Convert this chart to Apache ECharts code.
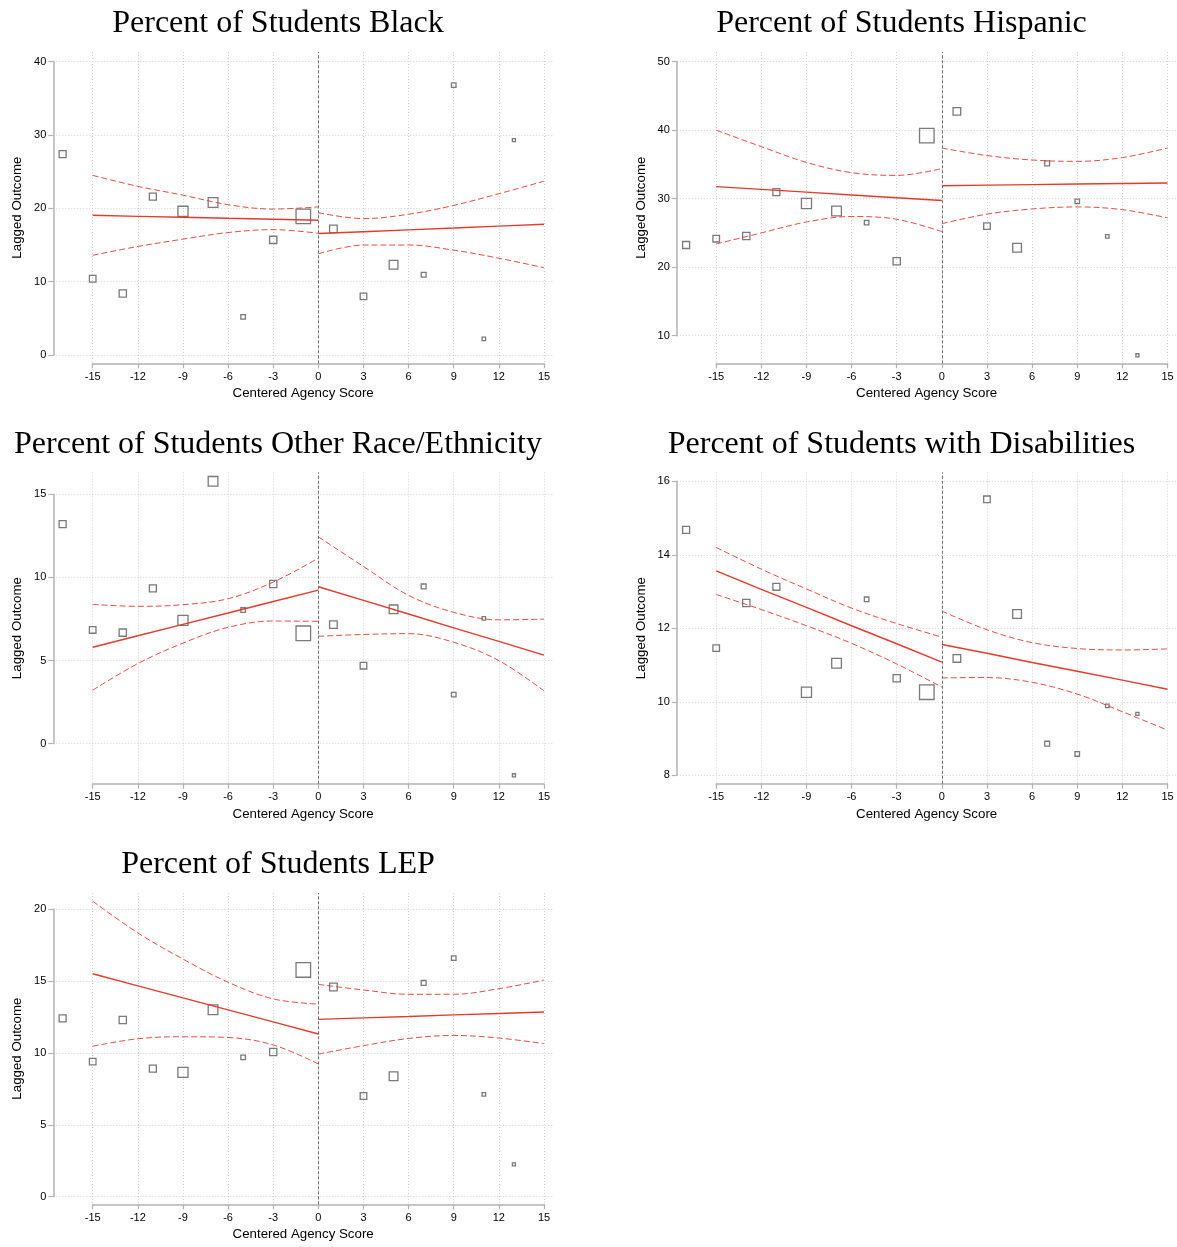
<!DOCTYPE html>
<html>
<head>
<meta charset="utf-8">
<script src="https://cdn.jsdelivr.net/npm/echarts@6/dist/echarts.min.js"></script>
<style>
  html, body { margin: 0; padding: 0; background: #ffffff; }
  #chart { width: 1177px; height: 1247px; }
</style>
</head>
<body>
<div id="chart"></div>
<script>
// ---- Data --------------------------------------------------------------
// Bin midpoints of the centered agency score and the number of agencies per bin
const binScores = [-17, -15, -13, -11, -9, -7, -5, -3, -1, 1, 3, 5, 7, 9, 11, 13];
const binCounts = [52, 46, 56, 52, 108, 100, 22, 56, 225, 62, 46, 81, 25, 22, 13, 10];

const xTicks = [-15, -12, -9, -6, -3, 0, 3, 6, 9, 12, 15];
// Evaluation points for the fitted lines and confidence bands on each side of the cutoff
const fitXLeft = [-15, -12, -9, -6, -3, 0];
const fitXRight = [0, 3, 6, 9, 12, 15];

// Percent of Students Black
const blackMeans = [27.4, 10.4, 8.4, 21.6, 19.6, 20.8, 5.2, 15.7, 18.9, 17.2, 8.0, 12.3, 10.95, 36.8, 2.2, 29.3];
const blackTicks = [0, 10, 20, 30, 40];
const blackFitLeft = [19.05, 18.91, 18.78, 18.64, 18.51, 18.37];
const blackHiLeft = [24.5, 23.0, 21.8, 20.5, 19.9, 20.2];
const blackLoLeft = [13.6, 14.8, 15.8, 16.7, 17.1, 16.6];
const blackFitRight = [16.56, 16.81, 17.07, 17.32, 17.58, 17.83];
const blackHiRight = [19.4, 18.6, 19.2, 20.4, 22.0, 23.7];
const blackLoRight = [13.8, 15.0, 15.0, 14.3, 13.2, 11.9];

// Percent of Students Hispanic
const hispMeans = [23.24, 24.16, 24.55, 30.95, 29.3, 28.2, 26.5, 20.86, 39.2, 42.75, 26.0, 22.85, 35.16, 29.6, 24.5, 7.14];
const hispTicks = [10, 20, 30, 40, 50];
const hispFitLeft = [31.77, 31.36, 30.96, 30.55, 30.14, 29.73];
const hispHiLeft = [40.0, 37.6, 35.3, 33.8, 33.4, 34.4];
const hispLoLeft = [23.4, 25.0, 26.6, 27.4, 27.0, 25.2];
const hispFitRight = [31.9, 31.98, 32.06, 32.14, 32.22, 32.3];
const hispHiRight = [37.4, 36.3, 35.65, 35.45, 36.0, 37.4];
const hispLoRight = [26.35, 27.75, 28.5, 28.8, 28.4, 27.2];

// Percent of Students Other Race/Ethnicity
const otherMeans = [13.21, 6.84, 6.68, 9.34, 7.42, 15.78, 8.04, 9.6, 6.64, 7.16, 4.69, 8.08, 9.46, 2.95, 7.54, -1.9];
const otherTicks = [0, 5, 10, 15];
const otherFitLeft = [5.8, 6.49, 7.18, 7.86, 8.55, 9.24];
const otherHiLeft = [8.38, 8.26, 8.36, 8.72, 9.72, 11.16];
const otherLoLeft = [3.22, 4.82, 6.05, 7.0, 7.38, 7.36];
const otherFitRight = [9.44, 8.62, 7.8, 6.97, 6.15, 5.33];
const otherHiRight = [12.44, 10.66, 8.92, 7.9, 7.45, 7.49];
const otherLoRight = [6.46, 6.57, 6.62, 6.1, 5.0, 3.18];

// Percent of Students with Disabilities
const swdMeans = [14.68, 11.46, 12.69, 13.13, 10.26, 11.05, 12.79, 10.64, 10.26, 11.18, 15.51, 12.39, 8.86, 8.58, 9.89, 9.67];
const swdTicks = [8, 10, 12, 14, 16];
const swdFitLeft = [13.56, 13.06, 12.57, 12.07, 11.58, 11.08];
const swdHiLeft = [14.2, 13.61, 13.07, 12.55, 12.13, 11.76];
const swdLoLeft = [12.92, 12.51, 12.07, 11.59, 11.03, 10.4];
const swdFitRight = [11.56, 11.32, 11.07, 10.83, 10.59, 10.34];
const swdHiRight = [12.47, 11.96, 11.61, 11.45, 11.41, 11.44];
const swdLoRight = [10.65, 10.66, 10.53, 10.21, 9.73, 9.23];

// Percent of Students LEP
const lepMeans = [12.4, 9.39, 12.28, 8.9, 8.64, 13.0, 9.69, 10.06, 15.76, 14.58, 7.0, 8.37, 14.86, 16.59, 7.11, 2.25];
const lepTicks = [0, 5, 10, 15, 20];
const lepFitLeft = [15.5, 14.66, 13.82, 12.99, 12.15, 11.31];
const lepHiLeft = [20.54, 18.34, 16.52, 14.91, 13.75, 13.39];
const lepLoLeft = [10.46, 10.98, 11.12, 11.07, 10.55, 9.23];
const lepFitRight = [12.33, 12.43, 12.53, 12.64, 12.74, 12.84];
const lepHiRight = [14.76, 14.37, 14.07, 14.07, 14.46, 15.06];
const lepLoRight = [9.91, 10.5, 11.0, 11.21, 11.03, 10.64];

// ---- Panels ------------------------------------------------------------
const panels = [
  { title: 'Percent of Students Black', means: blackMeans, ticks: blackTicks,
    fitL: blackFitLeft, hiL: blackHiLeft, loL: blackLoLeft,
    fitR: blackFitRight, hiR: blackHiRight, loR: blackLoRight,
    col: 0, row: 0, pxTop: 61.7, pxBot: 355.0 },
  { title: 'Percent of Students Hispanic', means: hispMeans, ticks: hispTicks,
    fitL: hispFitLeft, hiL: hispHiLeft, loL: hispLoLeft,
    fitR: hispFitRight, hiR: hispHiRight, loR: hispLoRight,
    col: 1, row: 0, pxTop: 61.7, pxBot: 335.7 },
  { title: 'Percent of Students Other Race/Ethnicity', means: otherMeans, ticks: otherTicks,
    fitL: otherFitLeft, hiL: otherHiLeft, loL: otherLoLeft,
    fitR: otherFitRight, hiR: otherHiRight, loR: otherLoRight,
    col: 0, row: 1, pxTop: 73.8, pxBot: 323.2 },
  { title: 'Percent of Students with Disabilities', means: swdMeans, ticks: swdTicks,
    fitL: swdFitLeft, hiL: swdHiLeft, loL: swdLoLeft,
    fitR: swdFitRight, hiR: swdHiRight, loR: swdLoRight,
    col: 1, row: 1, pxTop: 60.8, pxBot: 354.8 },
  { title: 'Percent of Students LEP', means: lepMeans, ticks: lepTicks,
    fitL: lepFitLeft, hiL: lepHiLeft, loL: lepLoLeft,
    fitR: lepFitRight, hiR: lepHiRight, loR: lepLoRight,
    col: 0, row: 2, pxTop: 68.0, pxBot: 355.7 }
];

// ---- Layout (pixels inside one panel cell) -----------------------------
const colX = [0, 623.5];
const rowY = [0, 420.5, 841];
const L = {
  yAxisX: 53.3,       // left edge of plot region, where the y axis sits
  tickLeftX: 92.7,    // x = -15
  tickRightX: 544.0,  // x = 15
  regionRight: 553.0,
  regionTop: 52.0,
  regionBottom: 363.3,
  titleCx: 278,
  titleY: 24
};

const SANS = '"Liberation Sans", Arial, Helvetica, sans-serif';
const SERIF = '"Liberation Serif", "Times New Roman", serif';
const RED = '#e8392c';
const AXIS_GRAY = '#b3b3b3';
const GRID_GRAY = '#d2d2d2';

const grids = [], xAxes = [], yAxes = [], series = [], graphics = [];

panels.forEach((p, i) => {
  const ox = colX[p.col], oy = rowY[p.row];
  const tMin = p.ticks[0], tMax = p.ticks[p.ticks.length - 1];
  const yInt = p.ticks[1] - p.ticks[0];
  const xMinT = xTicks[0], xMaxT = xTicks[xTicks.length - 1];

  const pxPerX = (L.tickRightX - L.tickLeftX) / (xMaxT - xMinT);
  const pxPerY = (p.pxBot - p.pxTop) / (tMax - tMin);
  const xMinA = xMinT - (L.tickLeftX - L.yAxisX) / pxPerX;
  const xMaxA = xMaxT + (L.regionRight - L.tickRightX) / pxPerX;
  const yMaxA = tMax + (p.pxTop - L.regionTop) / pxPerY;
  const yMinA = tMin - (L.regionBottom - p.pxBot) / pxPerY;

  const gA = grids.length;
  // plot region: grid lines, marks
  grids.push({
    left: ox + L.yAxisX, top: oy + L.regionTop,
    width: L.regionRight - L.yAxisX, height: L.regionBottom - L.regionTop,
    outerBoundsMode: 'none', containLabel: false
  });
  // axis frame spanning the tick range only
  grids.push({
    left: ox + L.tickLeftX, top: oy + p.pxTop,
    width: L.tickRightX - L.tickLeftX, height: p.pxBot - p.pxTop,
    outerBoundsMode: 'none', containLabel: false
  });

  const gridLine = { show: true, lineStyle: { color: GRID_GRAY, type: [1, 2], width: 1 } };

  xAxes.push({
    gridIndex: gA, type: 'value', min: xMinA, max: xMaxA,
    axisLine: { show: false, onZero: false }, axisLabel: { show: false },
    axisTick: { show: false, customValues: xTicks },
    splitLine: gridLine,
    name: 'Centered Agency Score', nameLocation: 'middle', nameGap: 24,
    nameTextStyle: { color: '#000', fontSize: 13.3, fontFamily: SANS }
  });
  yAxes.push({
    gridIndex: gA, type: 'value', min: yMinA, max: yMaxA,
    axisLine: { show: false, onZero: false }, axisLabel: { show: false },
    axisTick: { show: false, customValues: p.ticks },
    splitLine: gridLine,
    name: 'Lagged Outcome', nameLocation: 'middle', nameGap: 29, nameRotate: 90,
    nameTextStyle: { color: '#000', fontSize: 13.3, fontFamily: SANS }
  });

  const axisLine = { show: true, onZero: false, lineStyle: { color: AXIS_GRAY, width: 1.5 } };
  const axisTick = { show: true, length: 5, lineStyle: { color: AXIS_GRAY, width: 1.2 } };
  xAxes.push({
    gridIndex: gA + 1, type: 'value', min: xMinT, max: xMaxT, interval: 3,
    offset: L.regionBottom - p.pxBot,
    axisLine, axisTick, splitLine: { show: false },
    axisLabel: { color: '#000', fontSize: 11, fontFamily: SANS, margin: 8,
                 showMinLabel: true, showMaxLabel: true }
  });
  yAxes.push({
    gridIndex: gA + 1, type: 'value', min: tMin, max: tMax, interval: yInt,
    offset: L.tickLeftX - L.yAxisX,
    axisLine, axisTick, splitLine: { show: false },
    axisLabel: { color: '#000', fontSize: 11, fontFamily: SANS, margin: 7,
                 showMinLabel: true, showMaxLabel: true }
  });

  const xi = gA, yi = gA;
  const pairs = (xs, ys) => xs.map((x, k) => [x, ys[k]]);

  // binned means, marker area proportional to bin size
  series.push({
    type: 'scatter', xAxisIndex: xi, yAxisIndex: yi, silent: true, z: 3,
    symbol: 'rect',
    symbolSize: d => Math.sqrt(d[2]) * 0.97,
    data: binScores.map((x, k) => [x, p.means[k], binCounts[k]]),
    itemStyle: { color: 'rgba(255,255,255,0)', borderColor: '#7a7a7a', borderWidth: 1.3, opacity: 1 },
    markLine: {
      silent: true, symbol: ['none', 'none'], animation: false,
      label: { show: false },
      lineStyle: { color: '#6e6e6e', type: [3, 2], width: 1 },
      data: [{ xAxis: 0 }]
    }
  });

  const fitLine = (xs, ys) => ({
    type: 'line', xAxisIndex: xi, yAxisIndex: yi, silent: true, z: 4,
    data: pairs(xs, ys), symbol: 'none', showSymbol: false,
    lineStyle: { color: RED, width: 1.4 }
  });
  const ciLine = (xs, ys) => ({
    type: 'line', xAxisIndex: xi, yAxisIndex: yi, silent: true, z: 4,
    data: pairs(xs, ys), symbol: 'none', showSymbol: false, smooth: 0.35,
    lineStyle: { color: RED, width: 1, type: [6, 3], opacity: 0.9 }
  });
  series.push(fitLine(fitXLeft, p.fitL), fitLine(fitXRight, p.fitR));
  series.push(ciLine(fitXLeft, p.hiL), ciLine(fitXLeft, p.loL));
  series.push(ciLine(fitXRight, p.hiR), ciLine(fitXRight, p.loR));

  graphics.push({
    type: 'text', silent: true,
    x: ox + L.titleCx, y: oy + L.titleY,
    style: {
      text: p.title, fill: '#000',
      font: '32px ' + SERIF,
      align: 'center', verticalAlign: 'middle',
      textAlign: 'center', textVerticalAlign: 'middle'
    }
  });
});

const chart = echarts.init(document.getElementById('chart'), null, { renderer: 'canvas' });
chart.setOption({
  animation: false,
  backgroundColor: '#ffffff',
  grid: grids,
  xAxis: xAxes,
  yAxis: yAxes,
  series: series,
  graphic: { elements: graphics }
});
</script>
</body>
</html>
